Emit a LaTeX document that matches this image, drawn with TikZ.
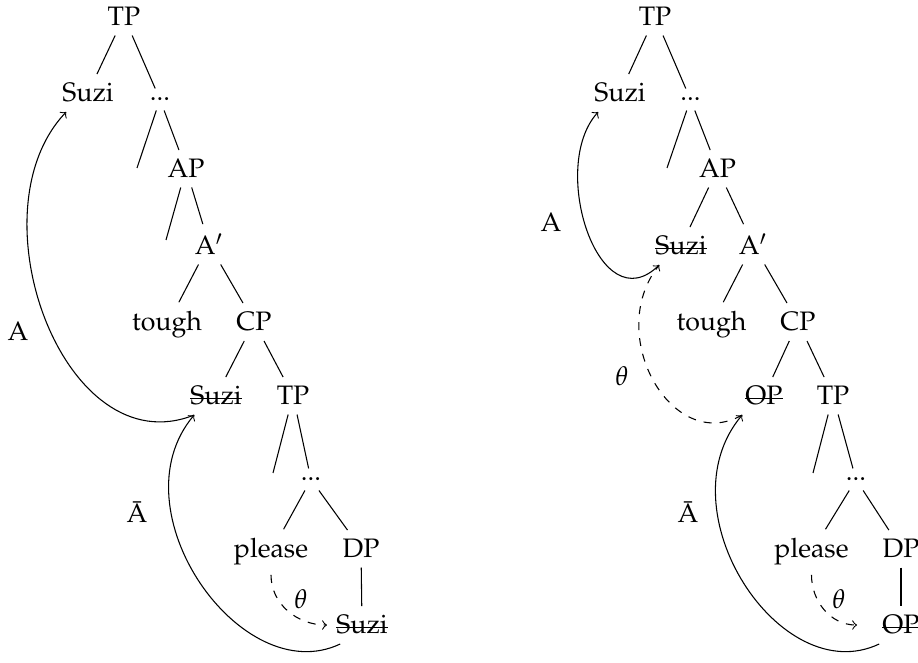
\documentclass[tikz,border=0pt]{standalone}
\usepackage[T1]{fontenc}
\usepackage{mathpazo}
\usetikzlibrary{calc}
\newcommand\mystrike[1]{\setbox0\hbox{#1}\rlap{\rule[0.22em]{\wd0}{0.4pt}}\box0}
\begin{document}
\begin{tikzpicture}[x=0.3744pt,y=-0.3744pt,
  every node/.style={anchor=base,inner sep=3.33pt},
  br/.style={draw=black,line width=0.4pt},
  mv/.style={->,line width=0.4pt},
  th/.style={->,dashed,line width=0.4pt}]
\useasboundingbox (0,0) rectangle (918,663);
% ---------- left tree ----------
\node (t1)  at (124,26)  {TP};
\node (s1)  at (88,102)  {Suzi};
\node (d1)  at (160,101) {...};
\node (ap1) at (186,178) {AP};
\node (ab1) at (209,255) {A$'$};
\node (tg1) at (167,331) {tough};
\node (cp1) at (254,331) {CP};
\node (ss1) at (216,405) {\mystrike{Suzi}};
\node (tp1) at (293,405) {TP};
\node (dd1) at (311,481) {...};
\node (pl1) at (271,558) {please};
\node (dp1) at (361,558) {DP};
\node (sb1) at (362,634) {\mystrike{Suzi}};
\coordinate (e1) at (137,168);
\coordinate (e2) at (166,240);
\coordinate (e3) at (273,473);
\draw[br] (t1) -- (s1);
\draw[br] (t1) -- (d1);
\draw[br] (d1) -- (e1);
\draw[br] (d1) -- (ap1);
\draw[br] (ap1) -- (e2);
\draw[br] (ap1) -- (ab1);
\draw[br] (ab1) -- (tg1);
\draw[br] (ab1) -- (cp1);
\draw[br] (cp1) -- (ss1);
\draw[br] (cp1) -- (tp1);
\draw[br] (tp1) -- (e3);
\draw[br] (tp1) -- (dd1);
\draw[br] (dd1) -- (pl1);
\draw[br] (dd1) -- (dp1);
\draw[br] (dp1) -- (sb1);
\node (la1) at (18,341)  {A};
\node (lb1) at (137,523) {\=A};
\node (lc1) at (301,608) {$\theta$};
\draw[mv] (ss1.221) .. controls +(-130,52) and +(-95,100) .. (s1.221);
\draw[mv] (sb1.221) .. controls +(-99,47) and +(-80,95) .. (ss1.221);
\draw[th] (pl1.south) to[out=-90,in=180] (sb1.west);
% ---------- right tree ----------
\node (t2)  at (655,26)    {TP};
\node (s2)  at (620,102)   {Suzi};
\node (d2)  at (690.5,101) {...};
\node (ap2) at (717.5,178) {AP};
\node (ss2) at (681,255)   {\mystrike{Suzi}};
\node (ab2) at (753,255)   {A$'$};
\node (tg2) at (711.5,331) {tough};
\node (cp2) at (798,331)   {CP};
\node (op2) at (764,405)   {\mystrike{OP}};
\node (tp2) at (833,405)   {TP};
\node (dd2) at (856,481)   {...};
\node (pl2) at (811.5,558) {please};
\node (dp2) at (901,558)   {DP};
\node (ob2) at (901,634)   {\mystrike{OP}};
\coordinate (e4) at (667,168);
\coordinate (e6) at (813,473);
\draw[br] (t2) -- (s2);
\draw[br] (t2) -- (d2);
\draw[br] (d2) -- (e4);
\draw[br] (d2) -- (ap2);
\draw[br] (ap2) -- (ss2);
\draw[br] (ap2) -- (ab2);
\draw[br] (ab2) -- (tg2);
\draw[br] (ab2) -- (cp2);
\draw[br] (cp2) -- (op2);
\draw[br] (cp2) -- (tp2);
\draw[br] (tp2) -- (e6);
\draw[br] (tp2) -- (dd2);
\draw[br] (dd2) -- (pl2);
\draw[br] (dd2) -- (dp2);
\draw[br] (dp2) -- (ob2);
\node (la2) at (551,232) {A};
\node (lc2) at (622,386) {$\theta$};
\node (lb2) at (688,523) {\=A};
\node (ld2) at (839,608) {$\theta$};
\draw[mv] (ss2.221) .. controls +(-60,60) and +(-50,55) .. (s2.221);
\draw[th] (op2.221) .. controls +(-70,40) and +(-55,70) .. (ss2.221);
\draw[mv] (ob2.221) .. controls +(-99,47) and +(-80,95) .. (op2.221);
\draw[th] (pl2.south) to[out=-90,in=180] ($(ob2.west)+(-16,0)$);
\end{tikzpicture}
\end{document}
